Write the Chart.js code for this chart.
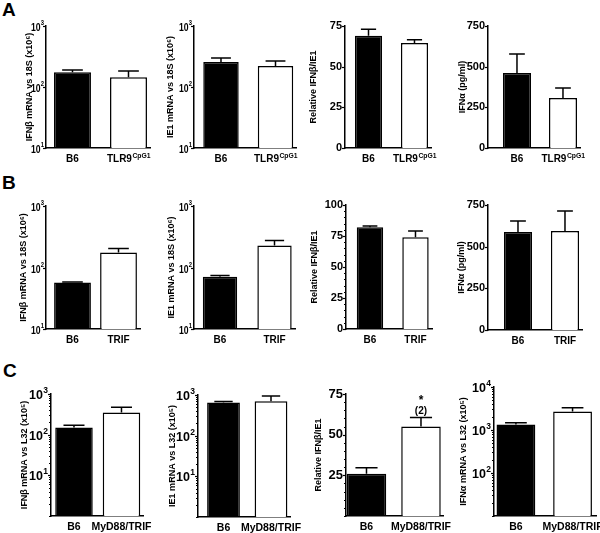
<!DOCTYPE html>
<html>
<head>
<meta charset="utf-8">
<script src="https://cdn.jsdelivr.net/npm/chart.js@4.4.0/dist/chart.umd.min.js"></script>
<style>
    body { margin: 0; background: #fff; }
    #fig { position: relative; width: 600px; height: 533px; overflow: hidden; font-family: "Liberation Sans", Arial, sans-serif; }
    #fig canvas { position: absolute; }
    .letter { position: absolute; font-weight: bold; font-size: 19px; line-height: 1; }
</style>
</head>
<body>
<div id="fig">
    <div class="letter" style="left:2px;top:0px">A</div>
    <div class="letter" style="left:2px;top:173px">B</div>
    <div class="letter" style="left:3px;top:361px">C</div>
</div>
<script>
const FONT = '"Liberation Sans", Arial, sans-serif';

// Categories
const catsA = ['B6', 'TLR9^CpG1'];
const catsB = ['B6', 'TRIF'];
const catsC = ['B6', 'MyD88/TRIF'];

// Row A values (mean) and upper error
const ifnbA = [175, 145];
const ifnbAErr = [15, 38];
const ie1A = [257, 220];
const ie1AErr = [43, 48];
const ratioA = [69, 64.5];
const ratioAErr = [4, 2];
const ifnaA = [461, 307];
const ifnaAErr = [117, 62];

// Row B
const ifnbB = [57, 175];
const ifnbBErr = [1, 28];
const ie1B = [71, 228];
const ie1BErr = [3, 47];
const ratioB = [82, 74];
const ratioBErr = [1, 5];
const ifnaB = [588, 594];
const ifnaBErr = [66, 120];

// Row C
const ifnbC = [151, 353];
const ifnbCErr = [19, 117];
const ie1C = [650, 700];
const ie1CErr = [45, 240];
const ratioC = [26, 55];
const ratioCErr = [3.6, 5.6];
const ifnaC = [1340, 2700];
const ifnaCErr = [130, 600];
const starC = ['', '*'];
const nC = ['', '(2)'];

// Labelled y ticks
const ticksLogAB = [10, 100, 1000];
const ticksRatioA = [0, 25, 50, 75];
const ticksIfnaAB = [0, 250, 500, 750];
const ticksRatioB = [0, 25, 50, 75, 100];
const ticksLogC = [10, 100, 1000];
const ticksRatioC = [25, 50, 75];
const ticksIfnaC = [100, 1000, 10000];

// panel geometry: plot box [left, top, right, bottom], title centre x, x range, bar fraction
const panels = [
    { cats: catsA, vals: ifnbA, errs: ifnbAErr, title: 'IFNβ mRNA vs 18S (x10⁶)', log: true, min: 10, max: 1000, ticks: ticksLogAB, minor: false, tf: 11.5, sx: 0.75,
      plot: [46, 26, 150, 148], titleX: 29, xr: [-0.473, 1.384], bar: 0.66, cf: 10 },
    { cats: catsA, vals: ie1A, errs: ie1AErr, title: 'IE1 mRNA vs 18S (x10⁶)', log: true, min: 10, max: 1000, ticks: ticksLogAB, minor: false, tf: 11.5, sx: 0.75,
      plot: [194, 26, 296, 148], titleX: 170, xr: [-0.495, 1.376], bar: 0.65, cf: 10 },
    { cats: catsA, vals: ratioA, errs: ratioAErr, title: 'Relative IFNβ/IE1', log: false, min: 0, max: 75, ticks: ticksRatioA, minor: false, tf: 11,
      plot: [345, 26, 431, 148], titleX: 313, xr: [-0.511, 1.359], bar: 0.59, cf: 10 },
    { cats: catsA, vals: ifnaA, errs: ifnaAErr, title: 'IFNα (pg/ml)', log: false, min: 0, max: 750, ticks: ticksIfnaAB, minor: false, tf: 11,
      plot: [488, 26, 580, 148], titleX: 462, xr: [-0.63, 1.37], bar: 0.61, cf: 10 },

    { cats: catsB, vals: ifnbB, errs: ifnbBErr, title: 'IFNβ mRNA vs 18S (x10⁶)', log: true, min: 10, max: 1000, ticks: ticksLogAB, minor: false, tf: 11.5, sx: 0.75,
      plot: [46, 206, 140, 329], titleX: 23, xr: [-0.576, 1.467], bar: 0.8, cf: 10 },
    { cats: catsB, vals: ie1B, errs: ie1BErr, title: 'IE1 mRNA vs 18S (x10⁶)', log: true, min: 10, max: 1000, ticks: ticksLogAB, minor: false, tf: 11.5, sx: 0.75,
      plot: [194, 206, 295, 329], titleX: 171, xr: [-0.477, 1.376], bar: 0.63, cf: 10 },
    { cats: catsB, vals: ratioB, errs: ratioBErr, title: 'Relative IFNβ/IE1', log: false, min: 0, max: 100, ticks: ticksRatioB, minor: 5, tf: 11,
      plot: [346, 205, 432, 329], titleX: 314, xr: [-0.527, 1.363], bar: 0.58, cf: 10 },
    { cats: catsB, vals: ifnaB, errs: ifnaBErr, title: 'IFNα (pg/ml)', log: false, min: 0, max: 750, ticks: ticksIfnaAB, minor: false, tf: 11,
      plot: [488, 205, 582, 330], titleX: 461, xr: [-0.638, 1.362], bar: 0.6, cf: 10 },

    { cats: catsC, vals: ifnbC, errs: ifnbCErr, title: 'IFNβ mRNA vs L32 (x10⁵)', log: true, min: 1, max: 1000, ticks: ticksLogC, minor: true, tf: 12.5, sx: 1,
      plot: [51, 394, 143, 516], titleX: 24, xr: [-0.484, 1.453], bar: 0.79, cf: 10.5 },
    { cats: catsC, vals: ie1C, errs: ie1CErr, title: 'IE1 mRNA vs L32 (x10⁵)', log: true, min: 1, max: 1000, ticks: ticksLogC, minor: true, tf: 12.5, sx: 1,
      plot: [198, 395, 290, 517], titleX: 172, xr: [-0.537, 1.4], bar: 0.69, cf: 10.5 },
    { cats: catsC, vals: ratioC, errs: ratioCErr, title: 'Relative IFNβ/IE1', log: false, min: 0, max: 75, ticks: ticksRatioC, minor: 5, tf: 13,
      plot: [346, 394, 443, 516], titleX: 318, xr: [-0.376, 1.404], bar: 0.725, cf: 10.5, stars: starC, ns: nC },
    { cats: catsC, vals: ifnaC, errs: ifnaCErr, title: 'IFNα mRNA vs L32 (x10⁵)', log: true, min: 10, max: 10000, ticks: ticksIfnaC, minor: true, tf: 12.5, sx: 1,
      plot: [494, 387, 596, 516], titleX: 463, xr: [-0.387, 1.414], bar: 0.685, cf: 10.5 }
];

// all tick positions (labelled ones flagged major)
function buildTicks(p) {
    const out = p.ticks.map(v => ({ value: v, major: true }));
    if (p.minor === true) {
        for (let d = p.min; d < p.max; d *= 10) {
            for (let m = 2; m <= 9; m++) out.push({ value: d * m, major: false });
        }
        if (!p.ticks.includes(p.min)) out.push({ value: p.min, major: false });
    } else if (p.minor) {
        for (let v = p.min; v <= p.max; v += p.minor) {
            if (!p.ticks.includes(v)) out.push({ value: v, major: false });
        }
    }
    return out.sort((a, b) => a.value - b.value);
}

// y tick marks, plus "10^n" labels on log axes
const yAxisDeco = {
    id: 'yAxisDeco',
    afterDraw(chart, args, opts) {
        const s = chart.scales.y;
        const ctx = chart.ctx;
        const x0 = chart.chartArea.left;
        ctx.save();
        ctx.strokeStyle = '#000';
        ctx.fillStyle = '#000';
        ctx.lineWidth = 1.2;
        s.ticks.forEach(t => {
            const y = Math.round(s.getPixelForValue(t.value)) + 0.5;
            const len = t.major ? 3 : 2;
            ctx.beginPath();
            ctx.moveTo(x0 - len, y);
            ctx.lineTo(x0, y);
            ctx.stroke();
            if (opts.log && t.major) {
                const exp = String(Math.round(Math.log10(t.value)));
                const fb = opts.size, fe = opts.size * 0.68;
                ctx.save();
                ctx.translate(x0 - (opts.sx < 1 ? 2 : 3), y);
                ctx.scale(opts.sx, 1);
                ctx.textAlign = 'right';
                ctx.textBaseline = 'alphabetic';
                ctx.font = `bold ${fe}px ${FONT}`;
                const we = ctx.measureText(exp).width;
                ctx.fillText(exp, 0, fb * 0.36 - fb * 0.45);
                ctx.font = `bold ${fb}px ${FONT}`;
                ctx.fillText('10', -we - 0.3, fb * 0.36);
                ctx.restore();
            }
        });
        ctx.restore();
    }
};

const errorBars = {
    id: 'errorBars',
    afterDatasetsDraw(chart, args, opts) {
        const meta = chart.getDatasetMeta(0);
        const ys = chart.scales.y;
        const ctx = chart.ctx;
        ctx.save();
        ctx.strokeStyle = '#000';
        ctx.lineWidth = 1.5;
        meta.data.forEach((bar, i) => {
            const v = opts.vals[i];
            const yBar = ys.getPixelForValue(v);
            const yTop = ys.getPixelForValue(v + opts.errs[i]);
            const half = bar.width * 0.28;
            ctx.beginPath();
            ctx.moveTo(bar.x, yBar);
            ctx.lineTo(bar.x, yTop);
            ctx.moveTo(bar.x - half, yTop);
            ctx.lineTo(bar.x + half, yTop);
            ctx.stroke();
            if (opts.stars && opts.stars[i]) {
                ctx.fillStyle = '#000';
                ctx.textAlign = 'center';
                ctx.textBaseline = 'alphabetic';
                ctx.font = `bold 10px ${FONT}`;
                ctx.fillText(opts.ns[i], bar.x, yTop - 3);
                ctx.font = `bold 12px ${FONT}`;
                ctx.fillText(opts.stars[i], bar.x, yTop - 13);
            }
        });
        ctx.restore();
    }
};

// category labels with a superscript part, e.g. TLR9^CpG1
const supLabels = {
    id: 'supLabels',
    afterDraw(chart, args, opts) {
        const s = chart.scales.x;
        const ctx = chart.ctx;
        opts.cats.forEach((c, i) => {
            if (!c.includes('^')) return;
            const [base, sup] = c.split('^');
            const x = s.getPixelForValue(i);
            const y = chart.chartArea.bottom + 5 + opts.size;
            ctx.save();
            ctx.fillStyle = '#000';
            ctx.textBaseline = 'alphabetic';
            ctx.font = `bold ${opts.size}px ${FONT}`;
            const wb = ctx.measureText(base).width;
            ctx.font = `bold ${opts.size * 0.68}px ${FONT}`;
            const ws = ctx.measureText(sup).width;
            const x0 = x - (wb + ws) / 2;
            ctx.font = `bold ${opts.size}px ${FONT}`;
            ctx.fillText(base, x0, y - 1);
            ctx.font = `bold ${opts.size * 0.68}px ${FONT}`;
            ctx.fillText(sup, x0 + wb + 0.5, y - 5);
            ctx.restore();
        });
    }
};

function makePanel(p) {
    const [L, T, R, B] = p.plot;
    const cLeft = Math.round(p.titleX - 5.4);
    const cTop = T - 12;
    const cRight = R + 28;
    const cBottom = B + 20;
    const canvas = document.createElement('canvas');
    canvas.width = cRight - cLeft;
    canvas.height = cBottom - cTop;
    canvas.style.left = cLeft + 'px';
    canvas.style.top = cTop + 'px';
    document.getElementById('fig').appendChild(canvas);

    const allTicks = buildTicks(p);

    new Chart(canvas.getContext('2d'), {
        type: 'bar',
        data: {
            datasets: [{
                data: p.vals.map((v, i) => ({ x: i, y: v })),
                backgroundColor: ['#000', '#fff'],
                borderColor: '#000',
                borderWidth: 1.5,
                base: p.min,
                barPercentage: p.bar,
                categoryPercentage: 1
            }]
        },
        options: {
            responsive: false,
            animation: false,
            events: [],
            layout: { padding: { top: T - cTop, right: cRight - R, left: 0, bottom: 0 } },
            plugins: {
                legend: { display: false },
                tooltip: { enabled: false },
                errorBars: { vals: p.vals, errs: p.errs, stars: p.stars, ns: p.ns },
                supLabels: { cats: p.cats, size: p.cf },
                yAxisDeco: { log: p.log, size: p.tf, sx: p.sx || 1 }
            },
            scales: {
                x: {
                    type: 'linear',
                    min: p.xr[0],
                    max: p.xr[1],
                    offset: false,
                    bounds: 'data',
                    grid: { display: false, drawTicks: false, offset: false },
                    border: { display: true, color: '#000', width: 1.5 },
                    afterBuildTicks: s => { s.ticks = p.cats.map((c, i) => ({ value: i })); },
                    afterFit: s => { s.height = cBottom - B; },
                    ticks: {
                        autoSkip: false,
                        maxRotation: 0,
                        padding: 5,
                        color: '#000',
                        font: { family: FONT, size: p.cf, weight: 'bold' },
                        callback: v => (p.cats[v] && !p.cats[v].includes('^')) ? p.cats[v] : ''
                    }
                },
                y: {
                    type: p.log ? 'logarithmic' : 'linear',
                    min: p.min,
                    max: p.max,
                    bounds: 'data',
                    grid: { display: false, drawTicks: false },
                    border: { display: true, color: '#000', width: 1.5 },
                    afterBuildTicks: s => { s.ticks = allTicks.map(t => ({ ...t })); },
                    afterFit: s => { s.width = L - cLeft; },
                    ticks: {
                        autoSkip: false,
                        padding: 3,
                        color: '#000',
                        font: { family: FONT, size: p.tf, weight: 'bold' },
                        callback: (v, i, ticks) => (ticks[i].major && !p.log) ? String(v) : ''
                    },
                    title: {
                        display: true,
                        text: p.title,
                        color: '#000',
                        padding: 0,
                        font: { family: FONT, size: 9, weight: 'bold', lineHeight: 1.2 }
                    }
                }
            }
        },
        plugins: [yAxisDeco, errorBars, supLabels]
    });
}

panels.forEach(makePanel);
</script>
</body>
</html>
